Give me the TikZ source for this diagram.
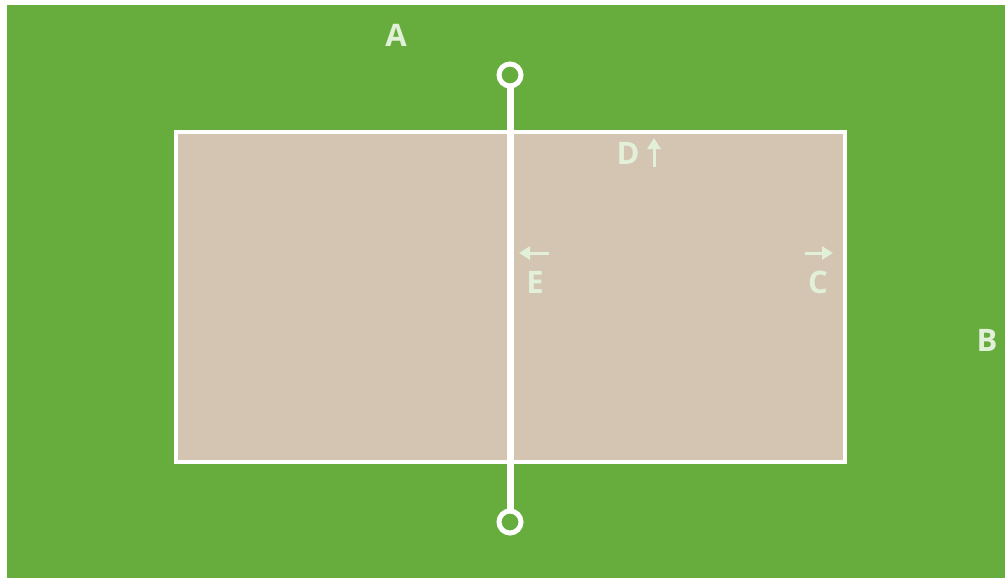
\documentclass[tikz,border=0pt]{standalone}
\usepackage{fontspec}
\setmainfont{Open Sans}
\usetikzlibrary{arrows.meta}
\definecolor{grass}{HTML}{67AD3E}
\definecolor{sand}{HTML}{D4C5B2}
\definecolor{lbl}{HTML}{E2F0D9}
\tikzset{
  lab/.style={text=lbl,font=\bfseries\fontsize{31}{32}\selectfont,inner sep=0pt},
  dirarrow/.style={draw=lbl,line width=3pt,-{Triangle[length=11pt,width=13pt]}},
  post/.style={circle,draw=white,line width=5pt,minimum size=22pt,inner sep=0pt}
}
\begin{document}
\begin{tikzpicture}[x=1pt,y=-1pt]
\useasboundingbox (0,0) rectangle (1005,578);
\fill[grass] (7,5) rectangle (1005,578);
\draw[white,line width=4pt,fill=sand] (176,132) rectangle (845,462);
\node[post] (top) at (510,75) {};
\node[post] (bot) at (510,522) {};
\draw[white,line width=7pt] (top.south) -- (bot.north);
\node[lab] (A) at (396,35) {A};
\node[lab] (B) at (987,340) {B};
\node[lab] (C) at (818,282) {C};
\node[lab] (E) at (535,282) {E};
\node[lab] (D) at (628,153) {D};
\coordinate (c1) at (805,253); \coordinate (c2) at (833,253);
\draw[dirarrow] (c1) -- (c2);
\coordinate (e1) at (549,253); \coordinate (e2) at (519,253);
\draw[dirarrow] (e1) -- (e2);
\coordinate (d1) at (654,167); \coordinate (d2) at (654,138);
\draw[dirarrow] (d1) -- (d2);
\end{tikzpicture}
\end{document}
